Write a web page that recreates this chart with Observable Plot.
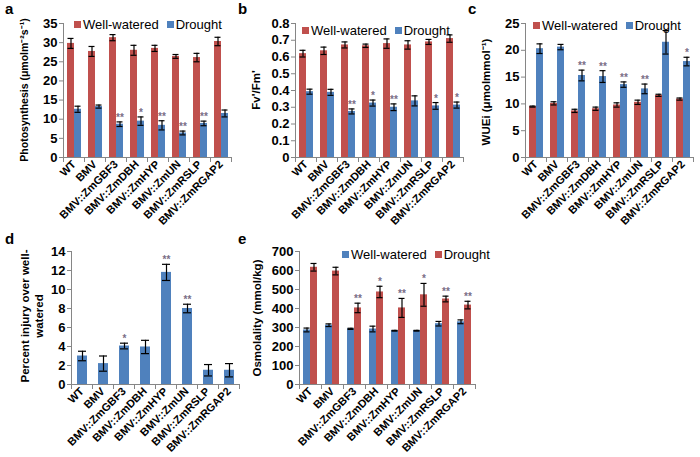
<!DOCTYPE html>
<html>
<head>
<meta charset="utf-8">
<script src="https://cdn.jsdelivr.net/npm/d3@7"></script>
<script src="https://cdn.jsdelivr.net/npm/@observablehq/plot@0.6"></script>
<style>
  body { margin: 0; background: #fff; }
  #root { position: relative; width: 700px; height: 457px; overflow: hidden; font-family: "Liberation Sans", Arial, sans-serif; color: #000; }
  .panel { position: absolute; }
  .letter { position: absolute; font-weight: bold; font-size: 15px; }
  .ylab { position: absolute; font-weight: bold; font-size: 11.5px; white-space: nowrap; text-align: center; line-height: 14px; transform: translate(-50%, -50%) rotate(-90deg); }
  .legend { position: absolute; display: flex; align-items: center; font-size: 13px; white-space: nowrap; }
  .legend .sw { display: inline-block; width: 7px; height: 7px; margin-right: 2px; }
  .legend .item { display: flex; align-items: center; margin-right: 8px; }
</style>
</head>
<body>
<div id="root"></div>
<script>
// ---------- data ----------
const categories = ["WT", "BMV", "BMV::ZmGBF3", "BMV::ZmDBH", "BMV::ZmHYP", "BMV::ZmUN", "BMV::ZmRSLP", "BMV::ZmRGAP2"];
const seriesNames = ["Well-watered", "Drought"];

// a: Photosynthesis
const photoWW = [29.8, 27.7, 31.3, 28.0, 28.5, 26.4, 26.1, 30.3];
const photoWWErr = [1.3, 1.3, 0.8, 1.3, 0.8, 0.5, 1.1, 1.1];
const photoDR = [12.6, 13.3, 8.7, 9.5, 8.4, 6.4, 8.9, 11.5];
const photoDRErr = [0.8, 0.4, 0.6, 1.1, 1.2, 0.5, 0.6, 0.9];
const photoStars = ["", "", "**", "*", "**", "**", "**", ""];
const photoTicks = [0, 5, 10, 15, 20, 25, 30, 35];

// b: Fv'/Fm'
const fvWW = [0.620, 0.637, 0.672, 0.667, 0.680, 0.672, 0.690, 0.710];
const fvWWErr = [0.020, 0.022, 0.018, 0.010, 0.028, 0.025, 0.015, 0.022];
const fvDR = [0.393, 0.389, 0.275, 0.325, 0.300, 0.338, 0.308, 0.313];
const fvDRErr = [0.015, 0.018, 0.015, 0.018, 0.020, 0.030, 0.020, 0.018];
const fvStars = ["", "", "**", "*", "**", "", "*", "*"];
const fvTicks = [0, 0.1, 0.2, 0.3, 0.4, 0.5, 0.6, 0.7, 0.8];

// c: WUEi
const wueWW = [9.5, 10.1, 8.7, 9.1, 9.8, 10.3, 11.6, 10.9];
const wueWWErr = [0.1, 0.3, 0.3, 0.3, 0.4, 0.4, 0.2, 0.2];
const wueDR = [20.3, 20.6, 15.3, 15.1, 13.6, 12.8, 21.5, 17.9];
const wueDRErr = [0.9, 0.5, 1.0, 1.1, 0.5, 0.9, 2.2, 0.8];
const wueStars = ["", "", "**", "**", "**", "**", "", "*"];
const wueTicks = [0, 5, 10, 15, 20, 25];

// d: Percent injury
const injury = [3.0, 2.2, 4.05, 3.95, 11.8, 8.0, 1.5, 1.5];
const injuryErr = [0.5, 0.8, 0.3, 0.7, 0.85, 0.45, 0.6, 0.7];
const injuryStars = ["", "", "*", "", "**", "**", "", ""];
const injuryTicks = [0, 2, 4, 6, 8, 10, 12, 14];

// e: Osmolality
const osmWW = [287, 312, 293, 292, 283, 283, 320, 330];
const osmWWErr = [10, 7, 3, 15, 2, 2, 12, 10];
const osmDR = [617, 597, 403, 487, 403, 472, 450, 418];
const osmDRErr = [20, 20, 25, 30, 50, 60, 15, 20];
const osmStars = ["", "", "**", "*", "**", "*", "**", "**"];
const osmTicks = [0, 100, 200, 300, 400, 500, 600, 700];

const RED = "#c0504d", BLUE = "#4f81bd", AXIS = "#868686", STAR = "#7a6e86";

// ---------- drawing ----------
const root = document.getElementById("root");

function addEl(cls, html, css) {
  const el = document.createElement("div");
  el.className = cls;
  el.innerHTML = html;
  Object.assign(el.style, css);
  root.appendChild(el);
  return el;
}

function panel(cfg) {
  const rows = [];
  cfg.cats.forEach((c, i) => cfg.series.forEach((s, j) => rows.push({
    cat: c, series: s, v: cfg.values[j][i], e: cfg.errors[j][i], star: cfg.stars[j] ? cfg.stars[j][i] : ""
  })));
  const plotH = cfg.height - cfg.mt - cfg.mb;
  const chart = Plot.plot({
    width: cfg.width, height: cfg.height,
    marginLeft: cfg.ml, marginRight: cfg.mr, marginTop: cfg.mt, marginBottom: cfg.mb,
    style: { background: "transparent", fontFamily: "'Liberation Sans', Arial, sans-serif", fontWeight: "bold", color: "#000", overflow: "visible" },
    fx: { domain: cfg.cats, padding: 0 },
    x: { domain: cfg.series, paddingInner: 0, paddingOuter: cfg.outer, axis: null },
    y: { domain: cfg.yDomain },
    color: { domain: cfg.series, range: cfg.colors },
    marks: [
      Plot.barY(rows, { fx: "cat", x: "series", y: "v", fill: "series" }),
      Plot.ruleX(rows, { fx: "cat", x: "series", y1: d => d.v - d.e, y2: d => d.v + d.e, stroke: "#000", strokeWidth: 1.2 }),
      Plot.tickY(rows, { fx: "cat", x: "series", y: d => d.v + d.e, insetLeft: cfg.capInset, insetRight: cfg.capInset, stroke: "#000", strokeWidth: 1.2 }),
      Plot.tickY(rows, { fx: "cat", x: "series", y: d => d.v - d.e, insetLeft: cfg.capInset, insetRight: cfg.capInset, stroke: "#000", strokeWidth: 1.2 }),
      Plot.text(rows.filter(d => d.star), { fx: "cat", x: "series", y: d => d.v + d.e, text: "star", dy: -1, lineAnchor: "bottom", fontSize: 10, fill: STAR }),
      Plot.ruleY([0], { stroke: AXIS }),
      Plot.frame({ anchor: "left", insetTop: plotH, insetBottom: -4, stroke: AXIS }),
      Plot.frame({ anchor: "right", insetTop: plotH, insetBottom: -4, stroke: AXIS }),
      Plot.frame({ anchor: "left", facetAnchor: "left", stroke: AXIS }),
      Plot.axisY({ ticks: cfg.yTicks, tickSize: 4, tickPadding: 2, tickFormat: d3.format("~g"), fontSize: 13, stroke: AXIS, label: null }),
      Plot.axisFx({ anchor: "bottom", tickRotate: -45, tickSize: 0, tickPadding: 5, fontSize: 11, label: null })
    ]
  });
  chart.classList.add("panel");
  Object.assign(chart.style, { left: cfg.left + "px", top: cfg.top + "px" });
  root.appendChild(chart);
  addEl("letter", cfg.letter, { left: cfg.letterPos[0] + "px", top: cfg.letterPos[1] + "px" });
  const lab = addEl("ylab", cfg.yLabel, { left: cfg.yLabelPos[0] + "px", top: cfg.yLabelPos[1] + "px" });
  if (cfg.yLabelSize) lab.style.fontSize = cfg.yLabelSize + "px";
  if (cfg.legend) {
    const html = cfg.series.map((s, j) => `<span class="item"><span class="sw" style="background:${cfg.colors[j]}"></span>${s}</span>`).join("");
    addEl("legend", html, { left: cfg.legend[0] + "px", top: cfg.legend[1] + "px" });
  }
}

panel({
  letter: "a", letterPos: [5, 0], left: 0, top: 0, width: 235, height: 235, ml: 63, mr: 4, mt: 23, mb: 78,
  cats: categories, series: seriesNames, colors: [RED, BLUE],
  values: [photoWW, photoDR], errors: [photoWWErr, photoDRErr], stars: [null, photoStars],
  yDomain: [0, 35], yTicks: photoTicks, outer: 0.5, capInset: 0.5,
  yLabel: "Photosynthesis (μmolm⁻²s⁻¹)", yLabelPos: [24, 90], yLabelSize: 10.5, legend: [74, 17]
});
panel({
  letter: "b", letterPos: [238, 0], left: 230, top: 0, width: 240, height: 235, ml: 62, mr: 4, mt: 23, mb: 78,
  cats: categories, series: seriesNames, colors: [RED, BLUE],
  values: [fvWW, fvDR], errors: [fvWWErr, fvDRErr], stars: [null, fvStars],
  yDomain: [0, 0.8], yTicks: fvTicks, outer: 0.5, capInset: 0.5,
  yLabel: "Fv'/Fm'", yLabelPos: [256, 90], legend: [302, 23]
});
panel({
  letter: "c", letterPos: [468, 0], left: 460, top: 0, width: 240, height: 235, ml: 62, mr: 5, mt: 23, mb: 78,
  cats: categories, series: seriesNames, colors: [RED, BLUE],
  values: [wueWW, wueDR], errors: [wueWWErr, wueDRErr], stars: [null, wueStars],
  yDomain: [0, 25], yTicks: wueTicks, outer: 0.5, capInset: 0.5,
  yLabel: "WUEi (μmolmmol⁻¹)", yLabelPos: [486, 92], legend: [533, 18]
});
panel({
  letter: "d", letterPos: [5, 230], left: 0, top: 230, width: 245, height: 227, ml: 69, mr: 5, mt: 21, mb: 73,
  cats: categories, series: ["Injury"], colors: [BLUE],
  values: [injury], errors: [injuryErr], stars: [injuryStars],
  yDomain: [0, 14], yTicks: injuryTicks, outer: 0.55, capInset: 1,
  yLabel: "Percent injury over well-<br>watered", yLabelPos: [32, 316], legend: null
});
panel({
  letter: "e", letterPos: [238, 230], left: 230, top: 230, width: 250, height: 227, ml: 69, mr: 5, mt: 21, mb: 73,
  cats: categories, series: seriesNames, colors: [BLUE, RED],
  values: [osmWW, osmDR], errors: [osmWWErr, osmDRErr], stars: [null, osmStars],
  yDomain: [0, 700], yTicks: osmTicks, outer: 0.5, capInset: 0.5,
  yLabel: "Osmolality (mmol/kg)", yLabelPos: [257, 318], legend: [342, 247]
});
</script>
</body>
</html>
